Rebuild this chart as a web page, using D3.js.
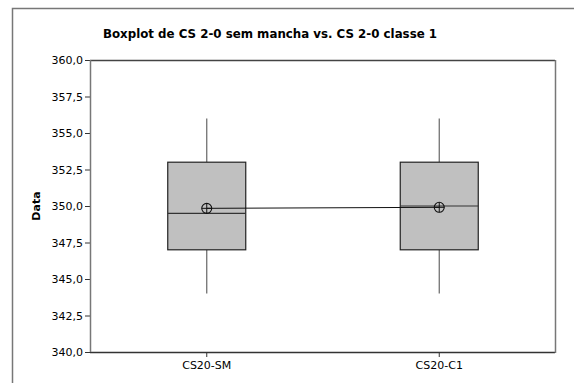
<!DOCTYPE html>
<html>
<head>
<meta charset="utf-8">
<script src="https://cdn.jsdelivr.net/npm/d3@7"></script>
<style>
  html, body { margin: 0; padding: 0; background: #fff; }
  svg { display: block; }
  text { font-family: "DejaVu Sans", Verdana, sans-serif; fill: #000; }
</style>
</head>
<body>
<svg id="chart" width="574" height="383"></svg>
<script>
// Samples compared
const categories = ["CS20-SM", "CS20-C1"];
// Five-number summaries per sample
const whiskerLow  = [344.0, 344.0];
const q1          = [347.0, 347.0];
const median      = [349.5, 350.0];
const q3          = [353.0, 353.0];
const whiskerHigh = [356.0, 356.0];
const means       = [349.84, 349.91];
// Y axis ticks
const yTicks = [340, 342.5, 345, 347.5, 350, 352.5, 355, 357.5, 360];

const title = "Boxplot de CS 2-0 sem mancha vs. CS 2-0 classe 1";
const yLabel = "Data";

const svg = d3.select("#chart");
const plot = { left: 90, right: 555, top: 60, bottom: 352 };

// Outer frame (extends beyond the visible canvas on the right and bottom)
svg.append("rect")
  .attr("x", 12.5).attr("y", 8.5)
  .attr("width", 600).attr("height", 400)
  .attr("fill", "none").attr("stroke", "#777").attr("stroke-width", 1.5);

const x = d3.scalePoint().domain(categories)
  .range([plot.left, plot.right]).padding(0.5);
const y = d3.scaleLinear().domain([340, 360])
  .range([plot.bottom, plot.top]);

const fmt = v => d3.format(".1f")(v).replace(".", ",");

// Title
svg.append("text")
  .attr("x", 270).attr("y", 38)
  .attr("text-anchor", "middle")
  .attr("font-weight", "bold")
  .attr("font-size", 12.5)
  .attr("textLength", 334).attr("lengthAdjust", "spacingAndGlyphs")
  .text(title);

// Y axis
const yAxis = svg.append("g")
  .attr("transform", `translate(${plot.left},0)`)
  .call(d3.axisLeft(y).tickValues(yTicks).tickFormat(fmt).tickSize(5).tickPadding(2));
yAxis.select(".domain").remove();
yAxis.selectAll(".tick line").attr("stroke", "#333");
yAxis.selectAll(".tick text")
  .attr("font-size", 11)
  .attr("font-family", "DejaVu Sans, sans-serif")
  .attr("fill", "#111");

// X axis
const xAxis = svg.append("g")
  .attr("transform", `translate(0,${plot.bottom})`)
  .call(d3.axisBottom(x).tickSize(5).tickPadding(4));
xAxis.select(".domain").remove();
xAxis.selectAll(".tick line").attr("stroke", "#333");
xAxis.selectAll(".tick text")
  .attr("font-size", 11)
  .attr("font-family", "DejaVu Sans, sans-serif")
  .attr("fill", "#111");

// Y label
svg.append("text")
  .attr("transform", `translate(40,${(plot.top + plot.bottom) / 2}) rotate(-90)`)
  .attr("text-anchor", "middle")
  .attr("font-weight", "bold")
  .attr("font-size", 11)
  .text(yLabel);

// Plot frame
svg.append("line").attr("x1", plot.left).attr("x2", plot.right)
  .attr("y1", plot.top + 0.5).attr("y2", plot.top + 0.5)
  .attr("stroke", "#444").attr("stroke-width", 1.3);
svg.append("line").attr("x1", plot.left).attr("x2", plot.right)
  .attr("y1", plot.bottom + 0.5).attr("y2", plot.bottom + 0.5)
  .attr("stroke", "#333").attr("stroke-width", 1.3);
svg.append("line").attr("x1", plot.left + 0.5).attr("x2", plot.left + 0.5)
  .attr("y1", plot.top).attr("y2", plot.bottom)
  .attr("stroke", "#777").attr("stroke-width", 1.5);
svg.append("line").attr("x1", plot.right + 0.5).attr("x2", plot.right + 0.5)
  .attr("y1", plot.top).attr("y2", plot.bottom + 1)
  .attr("stroke", "#777").attr("stroke-width", 1.5);

const boxW = 78;
const data = categories.map((c, i) => ({
  c, lo: whiskerLow[i], q1: q1[i], med: median[i], q3: q3[i], hi: whiskerHigh[i], mean: means[i]
}));

const g = svg.append("g");

// Whiskers
g.selectAll(".wh-top").data(data).join("line")
  .attr("x1", d => x(d.c) + 0.5).attr("x2", d => x(d.c) + 0.5)
  .attr("y1", d => y(d.hi)).attr("y2", d => y(d.q3))
  .attr("stroke", "#666").attr("stroke-width", 1.2);
g.selectAll(".wh-bot").data(data).join("line")
  .attr("x1", d => x(d.c) + 0.5).attr("x2", d => x(d.c) + 0.5)
  .attr("y1", d => y(d.q1)).attr("y2", d => y(d.lo))
  .attr("stroke", "#666").attr("stroke-width", 1.2);

// Boxes
g.selectAll(".box").data(data).join("rect")
  .attr("x", d => x(d.c) - boxW / 2 + 0.5)
  .attr("y", d => y(d.q3))
  .attr("width", boxW)
  .attr("height", d => y(d.q1) - y(d.q3))
  .attr("fill", "#c0c0c0")
  .attr("stroke", "#222").attr("stroke-width", 1.2);

// Medians
g.selectAll(".med").data(data).join("line")
  .attr("x1", d => x(d.c) - boxW / 2 + 0.5).attr("x2", d => x(d.c) + boxW / 2 + 0.5)
  .attr("y1", d => y(d.med)).attr("y2", d => y(d.med))
  .attr("stroke", "#333").attr("stroke-width", 1.2);

// Line connecting the means
g.append("path")
  .datum(data)
  .attr("d", d3.line().x(d => x(d.c) + 0.5).y(d => y(d.mean)))
  .attr("fill", "none").attr("stroke", "#111").attr("stroke-width", 1);

// Mean symbols: circle with cross
const r = 5;
const mg = g.selectAll(".mean").data(data).join("g")
  .attr("transform", d => `translate(${x(d.c) + 0.5},${y(d.mean)})`);
mg.append("circle").attr("r", r)
  .attr("fill", "none").attr("stroke", "#111").attr("stroke-width", 1.1);
mg.append("line").attr("x1", -r).attr("x2", r).attr("y1", 0).attr("y2", 0)
  .attr("stroke", "#111").attr("stroke-width", 1);
mg.append("line").attr("x1", 0).attr("x2", 0).attr("y1", -r).attr("y2", r)
  .attr("stroke", "#111").attr("stroke-width", 1);
</script>
</body>
</html>
